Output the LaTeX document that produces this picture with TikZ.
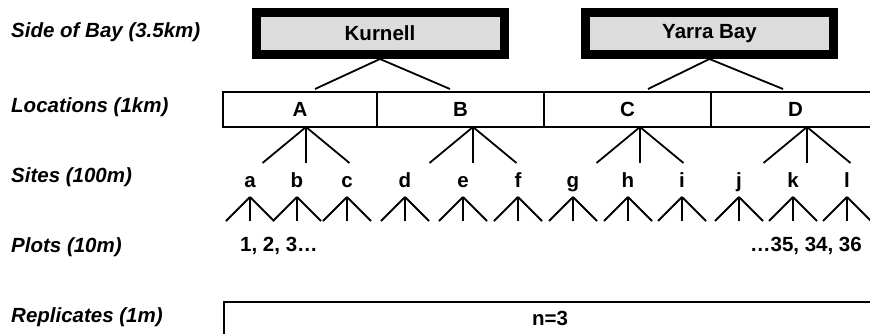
\documentclass[tikz,border=0pt]{standalone}
\usepackage{fontspec}
\setmainfont{Liberation Sans}
\definecolor{baygray}{RGB}{220,220,220}
\begin{document}
\begin{tikzpicture}[x=1pt,y=-1pt,
  font=\fontsize{20.5}{24}\selectfont\bfseries,
  levellabel/.style={anchor=base west,inner sep=0pt,font=\fontsize{20.5}{24}\selectfont\bfseries\itshape},
  baybox/.style={draw,line width=9pt,fill=baygray,minimum width=248pt,minimum height=42pt,inner sep=0pt},
  cell/.style={draw,line width=2pt,minimum height=35pt,inner sep=0pt},
  branch/.style={line width=1.8pt},
  sitelabel/.style={anchor=base,inner sep=0pt}]
\useasboundingbox (0,0) rectangle (870,333);
\clip (0,0) rectangle (870,333);

% level names down the left side
\node[levellabel] (lvbay)  at (11,37)  {Side of Bay (3.5km)};
\node[levellabel] (lvloc)  at (11,112) {Locations (1km)};
\node[levellabel] (lvsite) at (11,182) {Sites (100m)};
\node[levellabel] (lvplot) at (11,252) {Plots (10m)};
\node[levellabel] (lvrep)  at (11,322) {Replicates (1m)};

% sides of the bay
\node[baybox] (kur) at (380,33.5) {Kurnell};
\node[baybox] (yar) at (709.5,33.5) {Yarra Bay};

% locations: a row of four cells
\node[cell,minimum width=154pt] (A) at (300,109.5) {A};
\node[cell,minimum width=167pt] (B) at (460.5,109.5) {B};
\node[cell,minimum width=167pt] (C) at (627.5,109.5) {C};
\node[cell,minimum width=169pt] (D) at (795.5,109.5) {D};

% side of bay -> locations
\coordinate (kA) at (315,89);
\coordinate (kB) at (450,89);
\coordinate (yC) at (648,89);
\coordinate (yD) at (783,89);
\draw[branch] (kur.south) -- (kA);
\draw[branch] (kur.south) -- (kB);
\draw[branch] (yar.south) -- (yC);
\draw[branch] (yar.south) -- (yD);

% locations -> sites
\foreach \n/\x in {A/306,B/473,C/640,D/807}{
  \coordinate (\n top) at (\x,127);
  \foreach \d [count=\i] in {-43.5,0,43.5}{
    \coordinate (\n leg\i) at (\x+\d,163);
    \draw[branch] (\n top) -- (\n leg\i);
  }
}

% sites and their plots
\foreach \s/\x in {a/250,b/297,c/347,d/405,e/463,f/518,g/573,h/628,i/682,j/739,k/793,l/847}{
  \node[sitelabel] (site-\s) at (\x,187) {\s};
  \coordinate (apex-\s) at (\x,197);
  \foreach \d [count=\i] in {-24,0,24}{
    \coordinate (plot-\s\i) at (\x+\d,221);
    \draw[branch] (apex-\s) -- (plot-\s\i);
  }
}

% plot numbering
\node[anchor=base west,inner sep=0pt] (pfirst) at (240,251) {1, 2, 3…};
\node[anchor=base east,inner sep=0pt] (plast) at (862,251) {…35, 34, 36};

% replicates
\node[draw,line width=2.2pt,minimum width=652pt,minimum height=33pt,inner sep=0pt] (rep) at (550,318.5) {n=3};
\end{tikzpicture}
\end{document}
